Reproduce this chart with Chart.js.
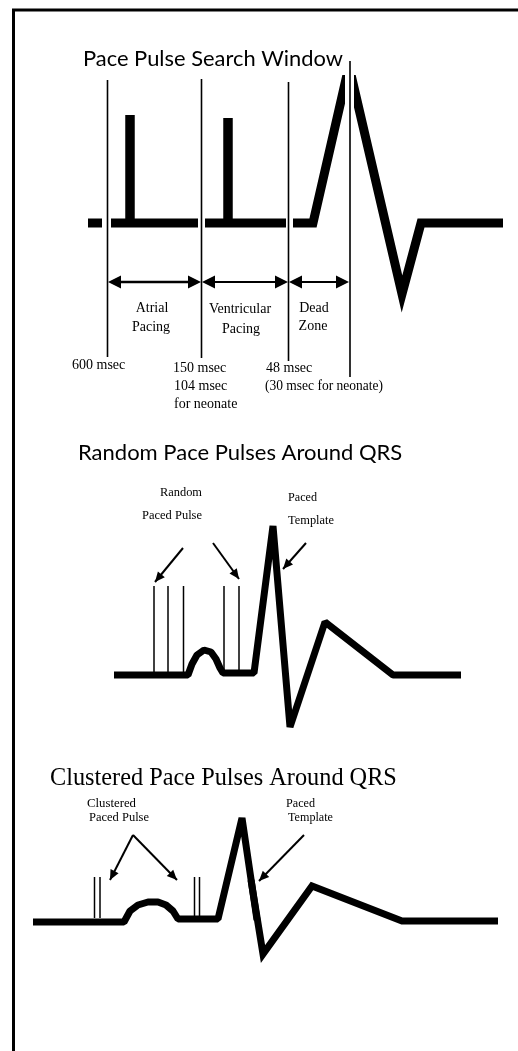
<!DOCTYPE html>
<html><head><meta charset="utf-8">
<script src="https://cdn.jsdelivr.net/npm/chart.js@4.4.1/dist/chart.umd.min.js"></script>
<style>html,body{margin:0;padding:0;background:#fff;overflow:hidden}canvas{display:block}</style>
</head><body>
<canvas id="c" width="518" height="1051"></canvas>
<script>
// ── Frame ──
const frame = [[13.5,1060],[13.5,10],[520,10]];

// ── Panel 1: pace pulse search window ──
const winX      = [107.5, 201.5, 288.5, 350];
const winTop    = [80, 79, 82, 61];
const winBottom = [357, 358, 361, 377];
const spikeX    = [130, 228];
const spikeTop  = [115, 118];
const baseY1    = 223;
const p1Base = [
  [[88,223],[102,223]],
  [[111,223],[198,223]],
  [[205,223],[286,223]],
  [[293,223],[313,223],[349,66],[402,294],[421,223],[503,223]]
];
// white gaps cut around the 0 msec marker at the R peak
const p1Cut = [
  [[[349.5,40],[349.5,118]], 9],
  [[[330,58],[370,58]], 34]
];
const spanX = [[108,201],[202,288],[289,349]];
const spanY = 282;

// ── Panel 2: random pace pulses ──
const p2Wave = [[114,675],[188,675],[192,664],[197,655],[204,650],[211,652],[216,659],[220,668],[223,673],
  [254,673],[273,526],[290,727],[325,622],[393,675],[461,675]];
const p2PulseX = [154, 168, 183.5, 224, 239];
const p2PulseTop = 586, p2PulseBottom = 673;
const p2Arrows = [[[183,548],[155,582]], [[213,543],[239,579]], [[306,543],[283,569]]];

// ── Panel 3: clustered pace pulses ──
const p3WaveA = [[33,922],[124,922],[130,911],[138,905],[148,902],[158,902],[166,905],[173,911],[178,919],
  [218,919],[242,818],[257,920]];
const p3WaveB = [[251,880],[263,954],[312,886],[402,921],[498,921]];
const p3PulseX = [94.5, 100, 194.5, 199.5];
const p3PulseTop = 877, p3PulseBottom = 918;
const p3Arrows = [[[133,835],[110,880]], [[133,835],[177,880]], [[304,835],[259,881]]];

// ── Text ──
const SANS = 'Lato, "Open Sans", sans-serif';
const SERIF = '"Liberation Serif", "DejaVu Serif", serif';
const texts = [
  {t:'Pace Pulse Search Window', x:83, y:66, f:'22px '+SANS, w:260},
  {t:'Atrial', x:152, y:312, f:'14px '+SERIF, a:'center'},
  {t:'Pacing', x:151, y:331, f:'14px '+SERIF, a:'center'},
  {t:'Ventricular', x:240, y:313, f:'14px '+SERIF, a:'center'},
  {t:'Pacing', x:241, y:333, f:'14px '+SERIF, a:'center'},
  {t:'Dead', x:314, y:312, f:'14px '+SERIF, a:'center'},
  {t:'Zone', x:313, y:330, f:'14px '+SERIF, a:'center'},
  {t:'600 msec', x:72, y:369, f:'14px '+SERIF},
  {t:'150 msec', x:173, y:372, f:'14px '+SERIF},
  {t:'48 msec', x:266, y:372, f:'14px '+SERIF},
  {t:'104 msec', x:174, y:390, f:'14px '+SERIF},
  {t:'for neonate', x:174, y:408, f:'14px '+SERIF},
  {t:'(30 msec for neonate)', x:265, y:390, f:'14px '+SERIF, w:118},

  {t:'Random Pace Pulses Around QRS', x:78, y:460, f:'22px '+SANS, w:327},
  {t:'Random', x:160, y:496, f:'13.5px '+SERIF, w:42},
  {t:'Paced Pulse', x:142, y:519, f:'13.5px '+SERIF, w:60},
  {t:'Paced', x:288, y:501, f:'13.5px '+SERIF, w:29},
  {t:'Template', x:288, y:524, f:'13.5px '+SERIF, w:46},

  {t:'Clustered Pace Pulses Around QRS', x:50, y:785, f:'24.3px '+SERIF, w:347},
  {t:'Clustered', x:87, y:807, f:'13px '+SERIF, w:49},
  {t:'Paced Pulse', x:89, y:821, f:'13px '+SERIF, w:60},
  {t:'Paced', x:286, y:807, f:'13px '+SERIF, w:29},
  {t:'Template', x:288, y:821, f:'13px '+SERIF, w:45}
];

// ── Build datasets (pushed in paint order) ──
const ds = [];
const heads = [];
const line = (pts, w, join, color) => ds.push({
  data: pts.map(([x,y]) => ({x, y})), borderColor: color || '#000', borderWidth: w,
  borderJoinStyle: join || 'miter', borderCapStyle: 'butt',
  pointRadius: 0, showLine: true, tension: 0, fill: false, clip: false
});

line(frame, 3);
p1Base.forEach(seg => line(seg, 9));
p1Cut.forEach(([seg, w]) => line(seg, w, 'miter', '#fff'));
winX.forEach((x, i) => line([[x, winTop[i]], [x, winBottom[i]]], 1.6));
spikeX.forEach((x, i) => line([[x, baseY1], [x, spikeTop[i]]], 9.5));
spanX.forEach(([a, b], i) => {
  line([[a + 6, spanY], [b - 6, spanY]], i === 0 ? 2.6 : 2);
  heads.push({from: [b, spanY], to: [a, spanY], len: 13, half: 6.5});
  heads.push({from: [a, spanY], to: [b, spanY], len: 13, half: 6.5});
});

line(p2Wave, 7, 'bevel');
p2PulseX.forEach(x => line([[x, p2PulseBottom], [x, p2PulseTop]], 1.5));
p2Arrows.forEach(([f, t]) => { line([f, t], 2); heads.push({from: f, to: t, len: 10, half: 4.5}); });

line(p3WaveA, 7, 'bevel');
line(p3WaveB, 7, 'miter');
p3PulseX.forEach(x => line([[x, p3PulseBottom], [x, p3PulseTop]], 1.5));
p3Arrows.forEach(([f, t]) => { line([f, t], 2); heads.push({from: f, to: t, len: 10, half: 4.5}); });

// Chart.js paints dataset 0 last (on top), so hand them over reversed
const datasets = ds.slice().reverse();

// ── Arrowheads + text plugin ──
const overlay = {
  id: 'overlay',
  afterDatasetsDraw(chart) {
    const {ctx, scales: {x: sx, y: sy}} = chart;
    const px = v => sx.getPixelForValue(v), py = v => sy.getPixelForValue(v);
    ctx.save();
    ctx.fillStyle = '#000';
    heads.forEach(h => {
      const x0 = px(h.from[0]), y0 = py(h.from[1]), x1 = px(h.to[0]), y1 = py(h.to[1]);
      const a = Math.atan2(y1 - y0, x1 - x0), c = Math.cos(a), s = Math.sin(a);
      ctx.beginPath();
      ctx.moveTo(x1, y1);
      ctx.lineTo(x1 - h.len*c + h.half*s, y1 - h.len*s - h.half*c);
      ctx.lineTo(x1 - h.len*c - h.half*s, y1 - h.len*s + h.half*c);
      ctx.closePath();
      ctx.fill();
    });
    ctx.textBaseline = 'alphabetic';
    texts.forEach(o => {
      ctx.font = o.f;
      ctx.textAlign = o.a || 'left';
      if (o.w) ctx.fillText(o.t, px(o.x), py(o.y), o.w); else ctx.fillText(o.t, px(o.x), py(o.y));
    });
    ctx.restore();
  }
};

new Chart(document.getElementById('c').getContext('2d'), {
  type: 'scatter',
  data: {datasets},
  options: {
    responsive: false,
    animation: false,
    devicePixelRatio: 1,
    layout: {padding: 0},
    events: [],
    plugins: {legend: {display: false}, tooltip: {enabled: false}},
    scales: {
      x: {type: 'linear', min: 0, max: 518, display: false},
      y: {type: 'linear', min: 0, max: 1051, reverse: true, display: false}
    }
  },
  plugins: [overlay]
});
</script>
</body></html>
